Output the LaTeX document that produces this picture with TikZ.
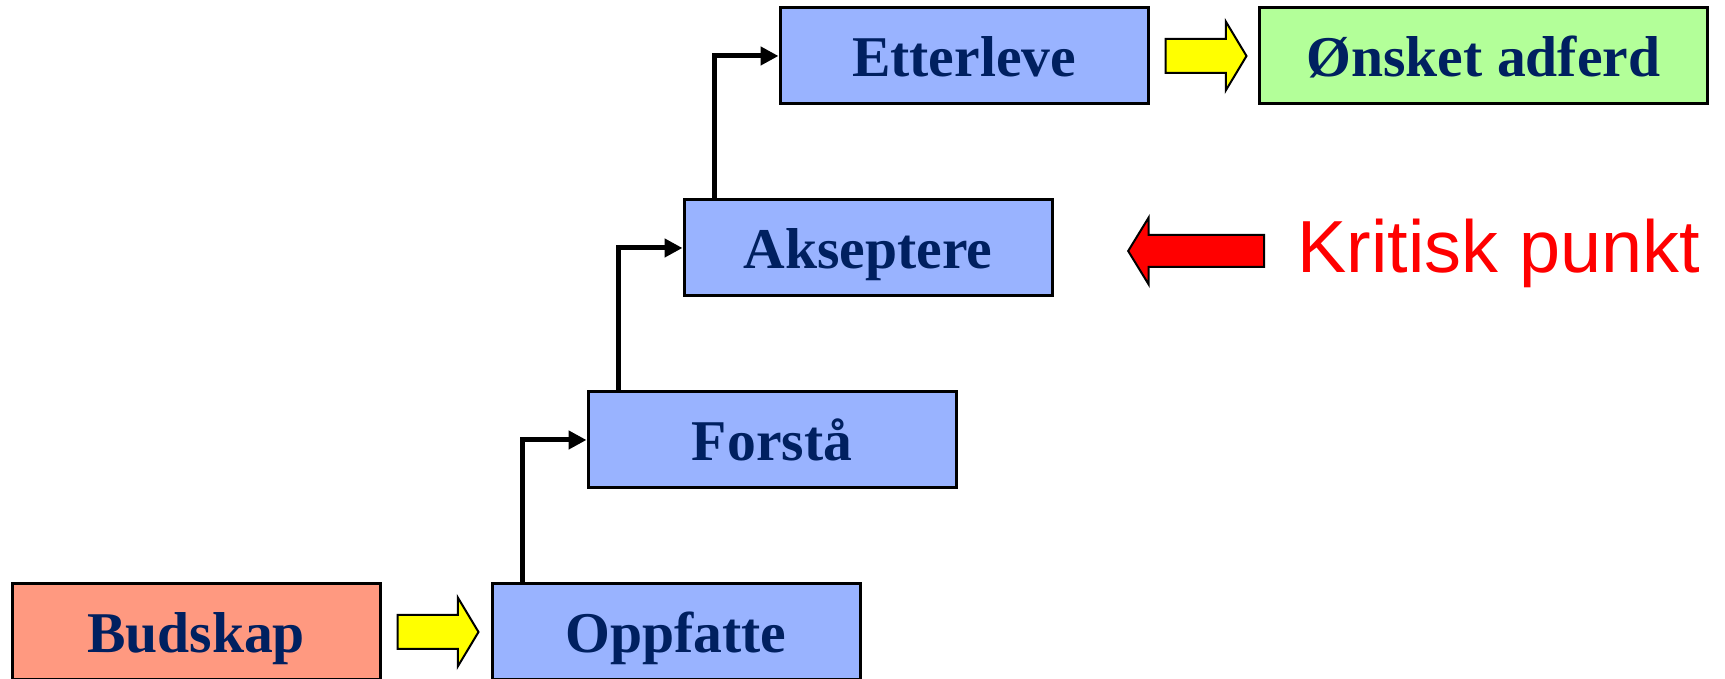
\documentclass[tikz,border=0pt]{standalone}
\usepackage{fontspec}
\setmainfont{Liberation Serif}
\newfontfamily\kritfont{Liberation Sans}
\usetikzlibrary{positioning, arrows.meta, shapes.arrows}
\definecolor{sNavy}{HTML}{002060}
\definecolor{sSalmon}{HTML}{FF9980}
\definecolor{sBlue}{HTML}{99B3FF}
\definecolor{sGreen}{HTML}{B3FF99}
\definecolor{sYellow}{HTML}{FFFF00}
\definecolor{sRed}{HTML}{FF0000}

\begin{document}
\begin{tikzpicture}[
  every node/.style={font=\fontsize{16.4}{19}\selectfont\bfseries},
  stage/.style={draw, line width=0.03cm, minimum width=3.68cm,
                minimum height=0.96cm, inner sep=0pt, text=sNavy,
                text height=0.5cm, text depth=0.08cm, fill=sBlue},
  blockarrow/.style={single arrow, draw, line width=0.02cm,
                inner xsep=0pt, inner ysep=0.16cm,
                single arrow head extend=0.175cm, single arrow tip angle=118,
                minimum height=0.81cm},
  link/.style={-{Triangle[length=1.8mm, width=1.8mm]}, line width=0.05cm},
]
  \useasboundingbox (0,0) rectangle (17.25,6.79);

  % Message and stages
  \node[stage, fill=sSalmon] (bud) at (1.96,0.47) {Budskap};
  \node[stage] (opp) at (6.76,0.47) {Oppfatte};
  \node[stage] (for) at (7.72,2.39) {Forstå};
  \node[stage] (aks) at (8.68,4.31) {Akseptere};
  \node[stage] (ett) at (9.64,6.23) {Etterleve};
  \node[stage, fill=sGreen, minimum width=4.48cm] (ons) at (14.835,6.23) {Ønsket adferd};

  % Yellow block arrows
  \node[blockarrow, fill=sYellow, right=0.15cm of bud] (b2o) {};
  \node[blockarrow, fill=sYellow, right=0.15cm of ett] (e2o) {};

  % Steps up
  \draw[link] ([xshift=0.32cm]opp.north west) |- (for.west);
  \draw[link] ([xshift=0.32cm]for.north west) |- (aks.west);
  \draw[link] ([xshift=0.32cm]aks.north west) |- (ett.west);

  % Critical point
  \node[blockarrow, fill=sRed, shape border rotate=180, minimum height=1.36cm,
        inner ysep=0.15cm, single arrow tip angle=117, anchor=tip] (warn) at (11.27,4.28) {};
  \node[anchor=base west, inner sep=0pt, text=sRed,
        font=\kritfont\fontsize{21}{25}\selectfont] (krit) at (12.97,4.06) {Kritisk punkt};
\end{tikzpicture}
\end{document}
